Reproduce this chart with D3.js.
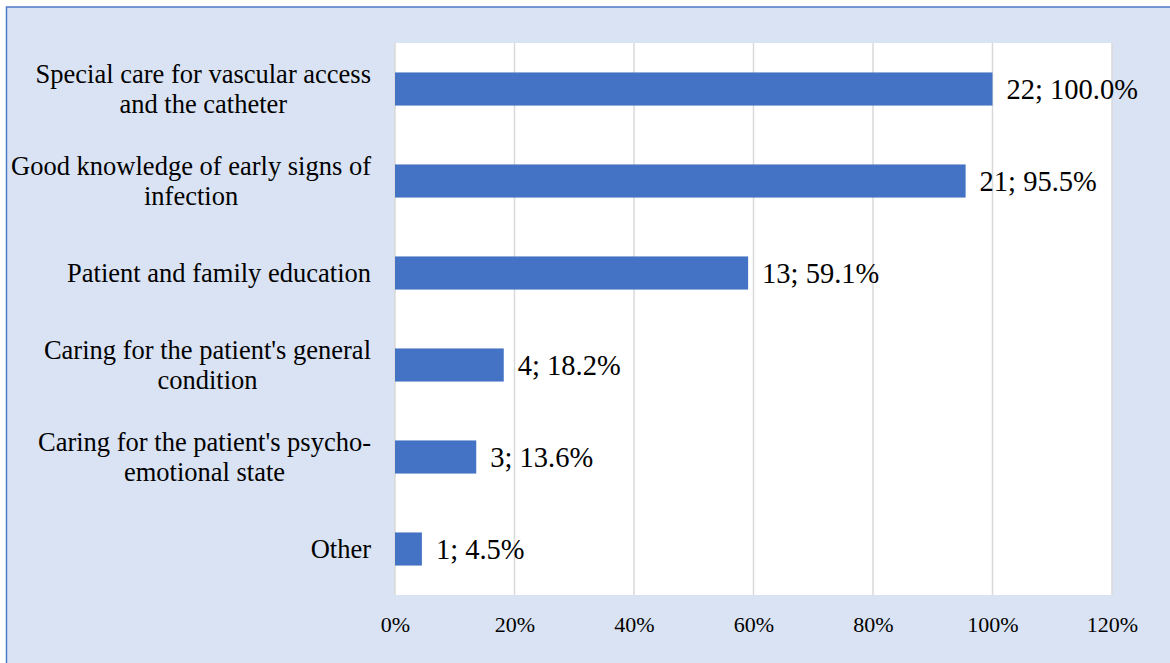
<!DOCTYPE html>
<html><head><meta charset="utf-8">
<script src="https://cdn.jsdelivr.net/npm/d3@7/dist/d3.min.js"></script>
<style>body{margin:0;background:#fff}svg{display:block}
svg text{font-family:"Liberation Serif","Times New Roman","DejaVu Serif",serif;}</style>
</head><body>
<svg id="c" width="1170" height="663"></svg>
<script>
const categories = [
  ["Special care for vascular access", "and the catheter"],
  ["Good knowledge of early signs of", "infection"],
  ["Patient and family education"],
  ["Caring for the patient's general", "condition"],
  ["Caring for the patient's psycho-", "emotional state"],
  ["Other"]
];
const counts = [22, 21, 13, 4, 3, 1];
const percents = [100.0, 95.5, 59.1, 18.2, 13.6, 4.5];
const ticks = [0, 20, 40, 60, 80, 100, 120];

const svg = d3.select("#c");
const W = 1170, H = 663;
const font = '"Liberation Serif","Times New Roman","DejaVu Serif",serif';

svg.append("rect").attr("x", 6.5).attr("y", 7).attr("width", W).attr("height", H)
  .attr("fill", "#dae3f3").attr("stroke", "#4f7ac7").attr("stroke-width", 1.5);

const L = 395, R = 1112, T = 43, B = 595;
svg.append("rect").attr("x", L).attr("y", T).attr("width", R - L).attr("height", B - T).attr("fill", "#fff");

const x = d3.scaleLinear().domain([0, 120]).range([L, R]);
const y = d3.scaleBand().domain(d3.range(categories.length)).range([T, B]).paddingInner(0.64).paddingOuter(0.32);

// gridlines
svg.append("g").selectAll("line").data(ticks).join("line")
  .attr("x1", d => x(d)).attr("x2", d => x(d)).attr("y1", T).attr("y2", B)
  .attr("stroke", "#d9d9d9").attr("stroke-width", 1.5);

// x axis
const xa = svg.append("g").attr("transform", `translate(0,${B})`)
  .call(d3.axisBottom(x).tickValues(ticks).tickFormat(d => d + "%").tickSize(0).tickPadding(21));
xa.attr("font-family", null);
xa.select(".domain").remove();
xa.selectAll("text").style("font-family", font).attr("font-size", 22).attr("fill", "#000");

// bars
svg.append("g").selectAll("rect").data(percents).join("rect")
  .attr("x", x(0)).attr("y", (d, i) => y(i))
  .attr("width", d => x(d) - x(0)).attr("height", y.bandwidth())
  .attr("fill", "#4472c4");

// data labels
svg.append("g").selectAll("text").data(percents).join("text")
  .attr("x", d => x(d) + 14).attr("y", (d, i) => y(i) + y.bandwidth() / 2 + 10)
  .style("font-family", font).attr("font-size", 28.5).attr("fill", "#000")
  .text((d, i) => counts[i] + "; " + d.toFixed(1) + "%");

// category labels
const lineH = 30;
const fs = 26.5;
const cg = svg.append("g");
categories.forEach((lines, i) => {
  const cy = y(i) + y.bandwidth() / 2;
  const t = cg.append("text").style("font-family", font).attr("font-size", fs).attr("fill", "#000");
  const n = lines.length;
  const tmp = svg.append("text").style("font-family", font).attr("font-size", fs);
  const widths = lines.map(s => { tmp.text(s); return tmp.node().getComputedTextLength(); });
  tmp.remove();
  const maxW = d3.max(widths);
  const right = 371;
  const center = right - maxW / 2;
  lines.forEach((s, j) => {
    t.append("tspan").attr("x", center).attr("text-anchor", "middle")
      .attr("y", cy + (j - (n - 1) / 2) * lineH + 9)
      .text(s);
  });
});
</script>
</body></html>
